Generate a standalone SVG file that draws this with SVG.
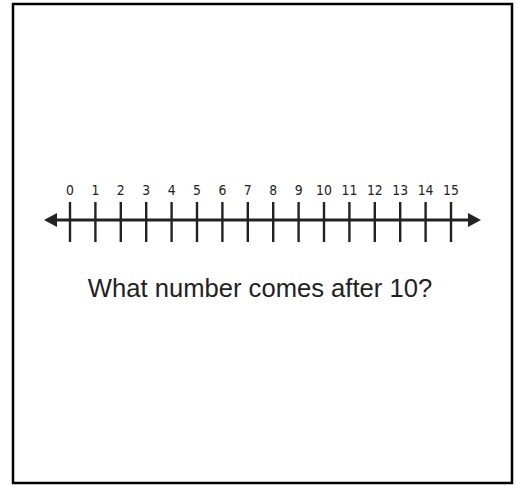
<svg xmlns="http://www.w3.org/2000/svg" width="517" height="485" viewBox="0 0 517 485">
<style>
.tick{stroke:#222;stroke-width:2.4}
.lbl{font-family:"DejaVu Sans Condensed","DejaVu Sans",sans-serif;font-size:13.8px;fill:#222;text-anchor:middle}
.q{font-family:"Liberation Sans",Arial,sans-serif;font-size:25.6px;fill:#222;text-anchor:middle}
</style>
<rect x="0" y="0" width="517" height="485" fill="#fff"/>
<rect id="frame" x="13" y="4" width="499" height="479" fill="none" stroke="#000" stroke-width="2.5"/>
<g id="connectors">
<line x1="52" y1="220" x2="472" y2="220" stroke="#222" stroke-width="3"/>
<polygon points="44,220 57,213 57,227" fill="#222"/>
<polygon points="481,220 468,213 468,227" fill="#222"/>
</g>
<g id="ticks">
<line class="tick" x1="70" y1="202" x2="70" y2="242"/>
<line class="tick" x1="95.4" y1="202" x2="95.4" y2="242"/>
<line class="tick" x1="120.8" y1="202" x2="120.8" y2="242"/>
<line class="tick" x1="146.2" y1="202" x2="146.2" y2="242"/>
<line class="tick" x1="171.6" y1="202" x2="171.6" y2="242"/>
<line class="tick" x1="197" y1="202" x2="197" y2="242"/>
<line class="tick" x1="222.4" y1="202" x2="222.4" y2="242"/>
<line class="tick" x1="247.8" y1="202" x2="247.8" y2="242"/>
<line class="tick" x1="273.2" y1="202" x2="273.2" y2="242"/>
<line class="tick" x1="298.6" y1="202" x2="298.6" y2="242"/>
<line class="tick" x1="324" y1="202" x2="324" y2="242"/>
<line class="tick" x1="349.4" y1="202" x2="349.4" y2="242"/>
<line class="tick" x1="374.8" y1="202" x2="374.8" y2="242"/>
<line class="tick" x1="400.2" y1="202" x2="400.2" y2="242"/>
<line class="tick" x1="425.6" y1="202" x2="425.6" y2="242"/>
<line class="tick" x1="451" y1="202" x2="451" y2="242"/>
</g>
<g id="labels">
<text class="lbl" x="70" y="195">0</text>
<text class="lbl" x="95.4" y="195">1</text>
<text class="lbl" x="120.8" y="195">2</text>
<text class="lbl" x="146.2" y="195">3</text>
<text class="lbl" x="171.6" y="195">4</text>
<text class="lbl" x="197" y="195">5</text>
<text class="lbl" x="222.4" y="195">6</text>
<text class="lbl" x="247.8" y="195">7</text>
<text class="lbl" x="273.2" y="195">8</text>
<text class="lbl" x="298.6" y="195">9</text>
<text class="lbl" x="324" y="195">10</text>
<text class="lbl" x="349.4" y="195">11</text>
<text class="lbl" x="374.8" y="195">12</text>
<text class="lbl" x="400.2" y="195">13</text>
<text class="lbl" x="425.6" y="195">14</text>
<text class="lbl" x="451" y="195">15</text>
</g>
<g id="question">
<text class="q" x="260" y="297">What number comes after 10?</text>
</g>
</svg>
